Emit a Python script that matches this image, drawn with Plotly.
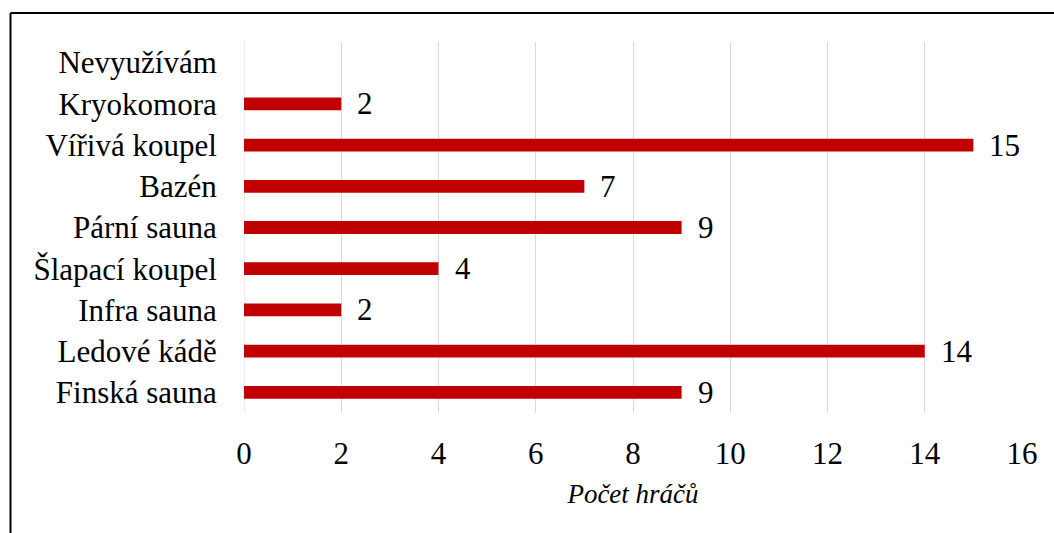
import plotly.graph_objects as go

categories = ["Finská sauna", "Ledové kádě", "Infra sauna", "Šlapací koupel",
              "Pární sauna", "Bazén", "Vířivá koupel", "Kryokomora", "Nevyužívám"]
values = [9, 14, 2, 4, 9, 7, 15, 2, None]
x_ticks = [0, 2, 4, 6, 8, 10, 12, 14, 16]
x_title = "Počet hráčů"

FONT = "Liberation Serif"
W, H = 1054, 533
ML, MR, MT, MB = 244, 32, 42, 120
pw, ph = W - ML - MR, H - MT - MB

fig = go.Figure()
fig.add_trace(go.Bar(
    y=categories, x=values, orientation="h",
    marker=dict(color="#C00000", line=dict(width=0)),
    width=0.31, hoverinfo="skip",
))

annotations = []
for c, v in zip(categories, values):
    if v is None:
        continue
    annotations.append(dict(x=v, y=c, xref="x", yref="y", text=str(v),
                            showarrow=False, xanchor="left", xshift=14,
                            font=dict(family=FONT, size=31, color="black")))

def px2x(p):
    return (p - ML) / pw

def py2y(p):
    return (MT + ph - p) / ph

shapes = [
    dict(type="line", xref="paper", yref="paper", x0=px2x(10.5), x1=px2x(W + 5),
         y0=py2y(13), y1=py2y(13), line=dict(color="black", width=2)),
    dict(type="line", xref="paper", yref="paper", x0=px2x(10.5), x1=px2x(10.5),
         y0=py2y(13), y1=py2y(H + 5), line=dict(color="black", width=2)),
    dict(type="line", xref="x", yref="paper", x0=0, x1=0, y0=0, y1=1,
         layer="below", line=dict(color="#D9D9D9", width=1)),
]

fig.update_layout(
    width=W, height=H,
    margin=dict(l=ML, r=MR, t=MT, b=MB, pad=0),
    paper_bgcolor="white", plot_bgcolor="white",
    showlegend=False,
    font=dict(family=FONT, size=31, color="black"),
    annotations=annotations,
    shapes=shapes,
    xaxis=dict(
        range=[0, 16], tickvals=x_ticks, ticktext=[str(t) for t in x_ticks],
        showgrid=True, gridcolor="#D9D9D9", gridwidth=1,
        zeroline=False,
        showline=False, ticks="outside", ticklen=13, tickcolor="rgba(0,0,0,0)",
        tickfont=dict(family=FONT, size=31, color="black"),
        title=dict(text="<i>" + x_title + "</i>", standoff=13,
                   font=dict(family=FONT, size=27, color="black")),
        fixedrange=True,
    ),
    yaxis=dict(
        categoryorder="array", categoryarray=categories,
        range=[-0.5, 8.5],
        showgrid=False, zeroline=False, showline=False,
        ticks="outside", ticklen=20, tickcolor="rgba(0,0,0,0)",
        tickfont=dict(family=FONT, size=31, color="black"),
        fixedrange=True,
    ),
)

fig.write_html("out.html")
